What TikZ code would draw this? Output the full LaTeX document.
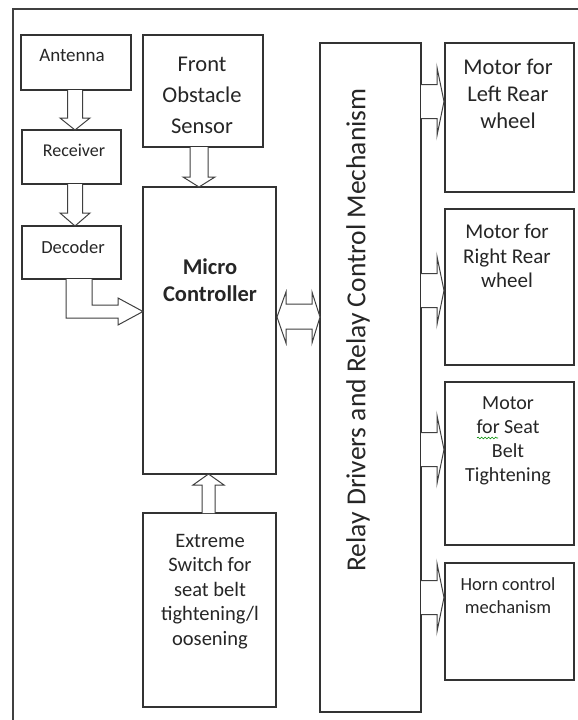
\documentclass[tikz,border=0pt]{standalone}
\usepackage{fontspec}
\setmainfont{Carlito}
\usetikzlibrary{calc,decorations.pathmorphing}
\newcommand\fs[2]{\fontsize{#1}{#2}\selectfont}
% vertical hollow arrow: #1 x, #2 from, #3 to, #4 half shaft, #5 half head, #6 signed head length (canvas)
\newcommand\vblock[6]{%
  \draw[harrow] let \p1=(#2), \p2=(#3) in
    (#1pt-#4pt,\y1) -- (#1pt-#4pt,\y2+#6pt) -- (#1pt-#5pt,\y2+#6pt) -- (#1pt,\y2)
    -- (#1pt+#5pt,\y2+#6pt) -- (#1pt+#4pt,\y2+#6pt) -- (#1pt+#4pt,\y1);}
% relay output arrow: #1 target node, #2 centre y
\newcommand\relout[2]{%
  \draw[harrow] (rel.east |- 0,#2-17) -- ($(#1.west |- 0,#2-17)+(-8,0)$)
    -- ($(#1.west |- 0,#2-34)+(-8,0)$) -- ($(#1.west |- 0,#2)+(-1,0)$)
    -- ($(#1.west |- 0,#2+34)+(-8,0)$) -- ($(#1.west |- 0,#2+17)+(-8,0)$)
    -- (rel.east |- 0,#2+17);}
\begin{document}
\begin{tikzpicture}[x=1pt,y=-1pt,
  box/.style={draw=black!80, line width=1.3pt, fill=white, inner sep=0pt, outer sep=0pt, anchor=north west},
  harrow/.style={draw=black!75, line width=1pt, fill=white, line join=miter},
  txt/.style={align=center, inner sep=0pt, text=black!85}]
\useasboundingbox (0,0) rectangle (578,720);
\fill[white] (0,0) rectangle (578,720);
% outer frame
\draw[black!75, line width=1.2pt] (13,722) -- (13,9) -- (580,9);
% boxes
\node[box, minimum width=110, minimum height=55] (ant) at (21,35) {};
\node[box, minimum width=99, minimum height=54] (rec) at (22,130) {};
\node[box, minimum width=99, minimum height=53] (dec) at (22,226) {};
\node[box, minimum width=120, minimum height=112] (fos) at (143,35) {};
\node[box, minimum width=133, minimum height=287] (mcu) at (143,187) {};
\node[box, minimum width=133, minimum height=194] (ext) at (143,513) {};
\node[box, minimum width=101, minimum height=669] (rel) at (320,43) {};
\node[box, minimum width=129, minimum height=149] (mlr) at (445,43) {};
\node[box, minimum width=129, minimum height=156] (mrr) at (445,209) {};
\node[box, minimum width=129, minimum height=163] (msb) at (445,382) {};
\node[box, minimum width=129, minimum height=117] (horn) at (445,563) {};
% texts
\node[txt, font=\fs{19}{22}] (antt) at (72,55) {Antenna};
\node[txt, font=\fs{18}{21}] (rect) at (74,150) {Receiver};
\node[txt, font=\fs{18.5}{21}] (dect) at (73,247) {Decoder};
\node[txt, font=\fs{22.5}{31}] (fost) at (202,95) {Front\\Obstacle\\Sensor};
\node[txt, font=\bfseries\fs{22.5}{27}] (mcut) at (210,280) {Micro\\Controller};
\node[txt, font=\fs{20.5}{24.5}] (extt) at (210,591.5) {Extreme\\Switch for\\seat belt\\tightening/l\\oosening};
\node[txt, font=\fs{27.5}{30}, rotate=90] (relt) at (358,330) {Relay Drivers and Relay Control Mechanism};
\node[txt, font=\fs{22.5}{27}] (mlrt) at (508,94) {Motor for\\Left Rear\\wheel};
\node[txt, font=\fs{21}{24.5}] (mrrt) at (507,256) {Motor for\\Right Rear\\wheel};
\node[txt, font=\fs{20}{24}] (msbt) at (508,440.5) {Motor\\for Seat\\Belt\\Tightening};
\node[txt, font=\fs{18.5}{23}] (hornt) at (508,595.5) {Horn control\\mechanism};
\draw[green!55!black, line width=0.6pt, decorate, decoration={snake, amplitude=0.9pt, segment length=3.5pt}] (477,438) -- (498,438);
% vertical arrows
\vblock{75}{ant.south}{rec.north}{7.5}{15}{12}
\vblock{75}{rec.south}{dec.north}{7.5}{15}{13}
\vblock{199}{fos.south}{mcu.north}{9}{16}{10}
\vblock{208.5}{ext.north}{mcu.south}{6.5}{15.5}{-11}
% decoder to micro controller
\draw[harrow] ($(dec.south west)+(44,0)$) -- ($(dec.south west)+(44,39)$)
  -- ($(mcu.west |- 0,318)+(-25,0)$) -- ($(mcu.west |- 0,325)+(-25,0)$)
  -- (mcu.west |- 0,311.5) -- ($(mcu.west |- 0,298)+(-25,0)$)
  -- ($(mcu.west |- 0,305)+(-25,0)$) -- ($(dec.south west)+(70,26)$)
  -- ($(dec.south west)+(70,0)$);
% double arrow micro controller <-> relay
\draw[harrow] ($(mcu.east |- 0,317)+(1,0)$) -- ($(mcu.east |- 0,292)+(10,0)$)
  -- ($(mcu.east |- 0,304)+(10,0)$) -- ($(rel.west |- 0,304)+(-8,0)$)
  -- ($(rel.west |- 0,292)+(-8,0)$) -- (rel.west |- 0,317)
  -- ($(rel.west |- 0,343)+(-8,0)$) -- ($(rel.west |- 0,329)+(-8,0)$)
  -- ($(mcu.east |- 0,329)+(10,0)$) -- ($(mcu.east |- 0,343)+(10,0)$) -- cycle;
% relay outputs
\relout{mlr}{101.5}
\relout{mrr}{290.5}
\relout{msb}{449.5}
\relout{horn}{597.5}
\end{tikzpicture}
\end{document}
